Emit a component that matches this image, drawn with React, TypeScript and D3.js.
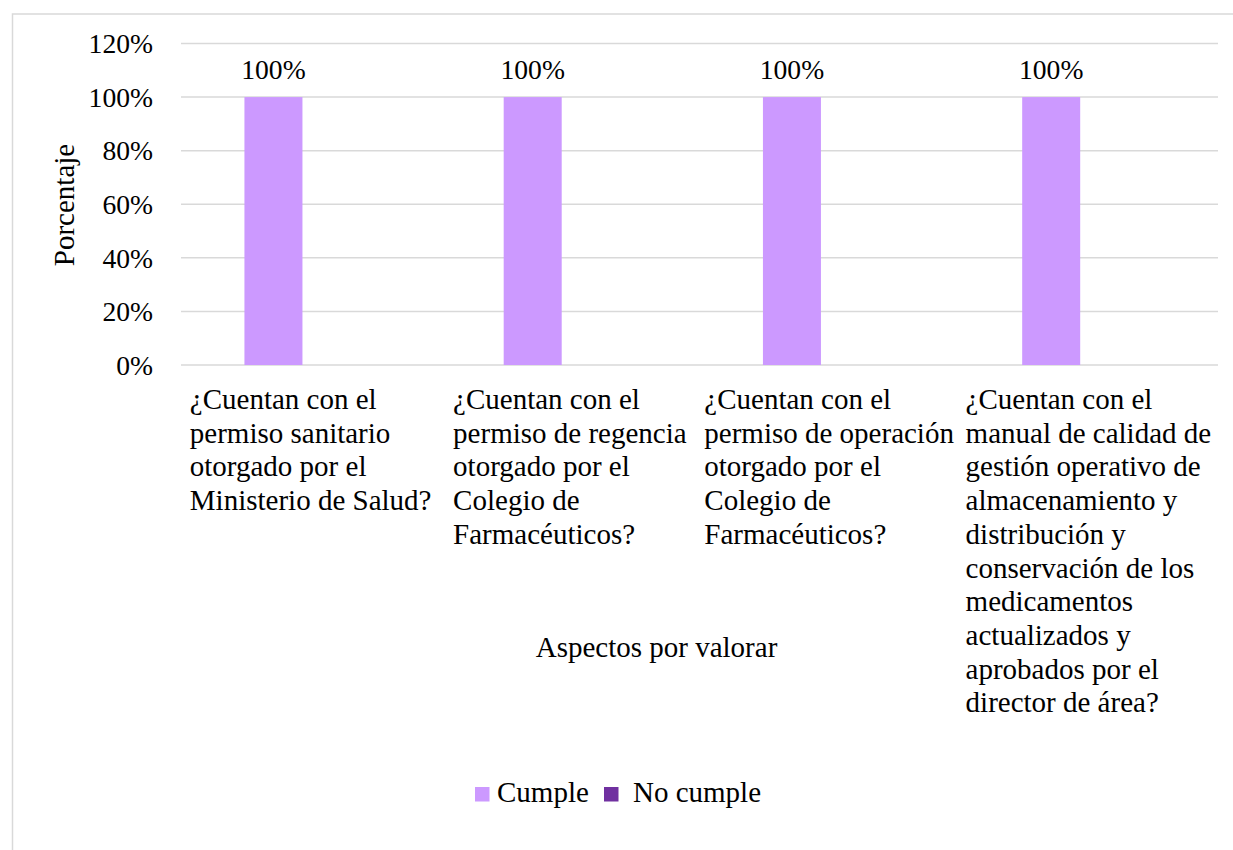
import React, { useMemo } from "react";
import * as d3 from "d3";

// Aspects evaluated (category labels, already wrapped into lines)
const categories: string[][] = [
  ["¿Cuentan con el", "permiso sanitario", "otorgado por el", "Ministerio de Salud?"],
  ["¿Cuentan con el", "permiso de regencia", "otorgado por el", "Colegio de", "Farmacéuticos?"],
  ["¿Cuentan con el", "permiso de operación", "otorgado por el", "Colegio de", "Farmacéuticos?"],
  [
    "¿Cuentan con el",
    "manual de calidad de",
    "gestión operativo de",
    "almacenamiento y",
    "distribución y",
    "conservación de los",
    "medicamentos",
    "actualizados y",
    "aprobados por el",
    "director de área?",
  ],
];

const seriesNames = ["Cumple", "No cumple"];
const cumple = [1, 1, 1, 1];
const noCumple = [0, 0, 0, 0];
const seriesColors = ["#CC99FF", "#7030A0"];
const yTicks = [0, 0.2, 0.4, 0.6, 0.8, 1.0, 1.2];

const FONT = "'Liberation Serif', 'Times New Roman', serif";
const FS = 29; // titles, category labels, legend
const FS_NUM = 27.6; // tick and data labels

function measure(text: string): number {
  const c = document.createElement("canvas").getContext("2d");
  if (!c) return text.length * FS * 0.45;
  c.font = `${FS}px 'Liberation Serif'`;
  return c.measureText(text).width;
}

export default function App() {
  const W = 1233;
  const H = 850;
  const plot = { left: 181, right: 1218, top: 43.5, bottom: 365 };

  const x = d3.scaleBand<number>().domain(d3.range(categories.length)).range([plot.left, plot.right]).padding(0);
  const inner = d3
    .scaleBand<number>()
    .domain([0, 1])
    .range([0, x.bandwidth()])
    .paddingInner(0.22)
    .paddingOuter(0.853);
  const y = d3.scaleLinear().domain([0, 1.2]).range([plot.bottom, plot.top]);
  const pct = d3.format(".0%");

  const series = [cumple, noCumple];

  const labelBlocks = useMemo(
    () => categories.map((lines) => d3.max(lines, (l) => measure(l)) || 0),
    []
  );

  const lineH = 33.7;
  const firstBaseline = 409;

  return (
    <svg
      width={W}
      height={H}
      style={{ position: "absolute", left: 0, top: 0, background: "#fff" }}
      fontFamily={FONT}
    >
      <rect x={0} y={0} width={W} height={H} fill="#fff" />
      {/* chart frame */}
      <rect x={12.5} y={14} width={W + 20} height={H + 20} fill="none" stroke="#d9d9d9" strokeWidth={1.5} />

      {/* gridlines */}
      {yTicks.map((t) => (
        <line
          key={t}
          x1={plot.left}
          x2={plot.right}
          y1={y(t)}
          y2={y(t)}
          stroke="#d9d9d9"
          strokeWidth={1.5}
        />
      ))}

      {/* y tick labels */}
      {yTicks.map((t) => (
        <text key={"l" + t} x={153} y={y(t) + 9.8} fontSize={FS_NUM} textAnchor="end" fill="#000">
          {pct(t)}
        </text>
      ))}

      {/* bars */}
      {categories.map((_, i) =>
        series.map((s, j) => {
          const v = s[i];
          const bx = (x(i) as number) + (inner(j) as number);
          return (
            <g key={`${i}-${j}`}>
              {v > 0 && (
                <rect x={bx} y={y(v)} width={inner.bandwidth()} height={y(0) - y(v)} fill={seriesColors[j]} />
              )}
              {v > 0 && (
                <text x={bx + inner.bandwidth() / 2} y={y(v) - 18} fontSize={FS_NUM} textAnchor="middle" fill="#000">
                  {pct(v)}
                </text>
              )}
            </g>
          );
        })
      )}

      {/* category labels */}
      {categories.map((lines, i) => {
        const left = (x(i) as number) + (x.bandwidth() - labelBlocks[i]) / 2;
        return (
          <text key={"c" + i} fontSize={FS} fill="#000">
            {lines.map((l, k) => (
              <tspan key={k} x={left} y={firstBaseline + k * lineH}>
                {l}
              </tspan>
            ))}
          </text>
        );
      })}

      {/* axis titles */}
      <text x={656.5} y={656.5} fontSize={FS} textAnchor="middle" fill="#000">
        Aspectos por valorar
      </text>
      <text
        transform={`translate(${74},${205}) rotate(-90)`}
        fontSize={FS}
        textAnchor="middle"
        fill="#000"
      >
        Porcentaje
      </text>

      {/* legend */}
      <g>
        <rect x={475} y={787} width={14.5} height={14.5} fill={seriesColors[0]} />
        <text x={497} y={801.5} fontSize={FS} fill="#000">
          {seriesNames[0]}
        </text>
        <rect x={604} y={787} width={14.5} height={14.5} fill={seriesColors[1]} />
        <text x={633} y={801.5} fontSize={FS} fill="#000">
          {seriesNames[1]}
        </text>
      </g>
    </svg>
  );
}
